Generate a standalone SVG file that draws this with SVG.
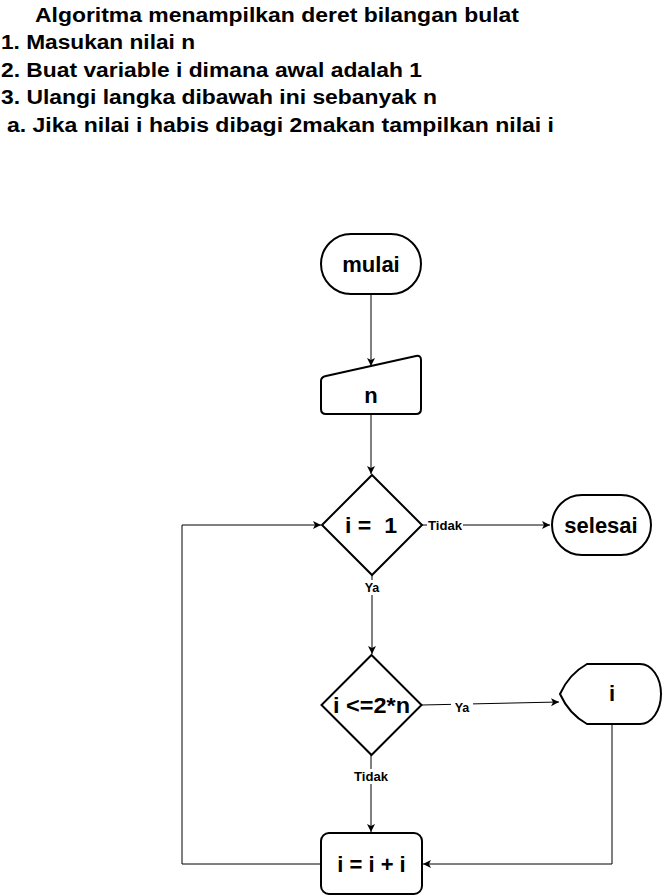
<svg xmlns="http://www.w3.org/2000/svg" width="663" height="896" viewBox="0 0 663 896">
<style>
.t{font-family:"Liberation Sans",Arial,sans-serif;font-weight:bold;fill:#000}
.h{font-size:20px}
.n{font-size:22px;text-anchor:middle}
.l{font-size:12.5px;text-anchor:middle}
.s{fill:#fff;stroke:#000;stroke-width:2}
.e{fill:none;stroke:#000;stroke-width:1}
</style>
<defs>
<marker id="a" markerWidth="10" markerHeight="10" refX="8" refY="4" orient="auto" markerUnits="userSpaceOnUse">
<path d="M0,0 L8,4 L0,8 L2,4 Z" fill="#000"/>
</marker>
</defs>
<rect width="663" height="896" fill="#fff"/>
<g id="title">
<text class="t h" x="35" y="21.5" textLength="484" lengthAdjust="spacingAndGlyphs">Algoritma menampilkan deret bilangan bulat</text>
<text class="t h" x="1" y="49" textLength="194" lengthAdjust="spacingAndGlyphs">1. Masukan nilai n</text>
<text class="t h" x="1" y="76.5" textLength="421" lengthAdjust="spacingAndGlyphs">2. Buat variable i dimana awal adalah 1</text>
<text class="t h" x="1" y="104" textLength="436" lengthAdjust="spacingAndGlyphs">3. Ulangi langka dibawah ini sebanyak n</text>
<text class="t h" x="7" y="131.5" textLength="547" lengthAdjust="spacingAndGlyphs">a. Jika nilai i habis dibagi 2makan tampilkan nilai i</text>
</g>
<g id="connectors">
<path class="e" d="M371,294 L371,366" marker-end="url(#a)"/>
<path class="e" d="M371,414 L371,474" marker-end="url(#a)"/>
<path class="e" d="M422,525 L550,525" marker-end="url(#a)"/>
<path class="e" d="M372,575 L372,654" marker-end="url(#a)"/>
<path class="e" d="M422,705 L559,702" marker-end="url(#a)"/>
<path class="e" d="M371,755 L371,832" marker-end="url(#a)"/>
<path class="e" d="M612,724 L612,864 L423,864" marker-end="url(#a)"/>
<path class="e" d="M321,864 L182,864 L182,525 L321,525" marker-end="url(#a)"/>
<rect x="427" y="518" width="36" height="15" fill="#fff"/>
<text class="t l" x="445" y="530" textLength="34" lengthAdjust="spacingAndGlyphs">Tidak</text>
<rect x="361" y="580" width="22" height="15" fill="#fff"/>
<text class="t l" x="372" y="592">Ya</text>
<rect x="451" y="700" width="22" height="15" fill="#fff"/>
<text class="t l" x="462" y="712">Ya</text>
<rect x="353" y="769" width="36" height="15" fill="#fff"/>
<text class="t l" x="371" y="781" textLength="34" lengthAdjust="spacingAndGlyphs">Tidak</text>
</g>
<g id="mulai">
<rect class="s" x="321" y="234" width="100" height="60" rx="30" ry="30"/>
<text class="t n" x="371" y="272">mulai</text>
</g>
<g id="input-n">
<path class="s" d="M326,376 L416,356 Q421,355 421,360 L421,409 Q421,414 416,414 L326,414 Q321,414 321,409 L321,381 Q321,377 326,376 Z"/>
<text class="t n" x="371" y="403">n</text>
</g>
<g id="cek-i">
<path class="s" d="M372,475 L422,525 L372,575 L322,525 Z"/>
<text class="t n" x="371" y="533" xml:space="preserve" textLength="52" lengthAdjust="spacingAndGlyphs">i =  1</text>
</g>
<g id="selesai">
<rect class="s" x="552" y="495" width="99" height="60" rx="30" ry="30"/>
<text class="t n" x="601" y="533">selesai</text>
</g>
<g id="cek-genap">
<path class="s" d="M371.5,655 L421.5,705 L371.5,755 L321.5,705 Z"/>
<text class="t n" x="371.5" y="713" textLength="77" lengthAdjust="spacingAndGlyphs">i &lt;=2*n</text>
</g>
<g id="tampil-i">
<path class="s" d="M587,664 L640,664 A21,30 0 0 1 640,724 L587,724 Q569,714 560,694 Q569,674 587,664 Z"/>
<text class="t n" x="612" y="701">i</text>
</g>
<g id="tambah-i">
<rect class="s" x="321" y="833" width="101" height="61" rx="8" ry="8"/>
<text class="t n" x="371.5" y="872">i = i + i</text>
</g>
</svg>
